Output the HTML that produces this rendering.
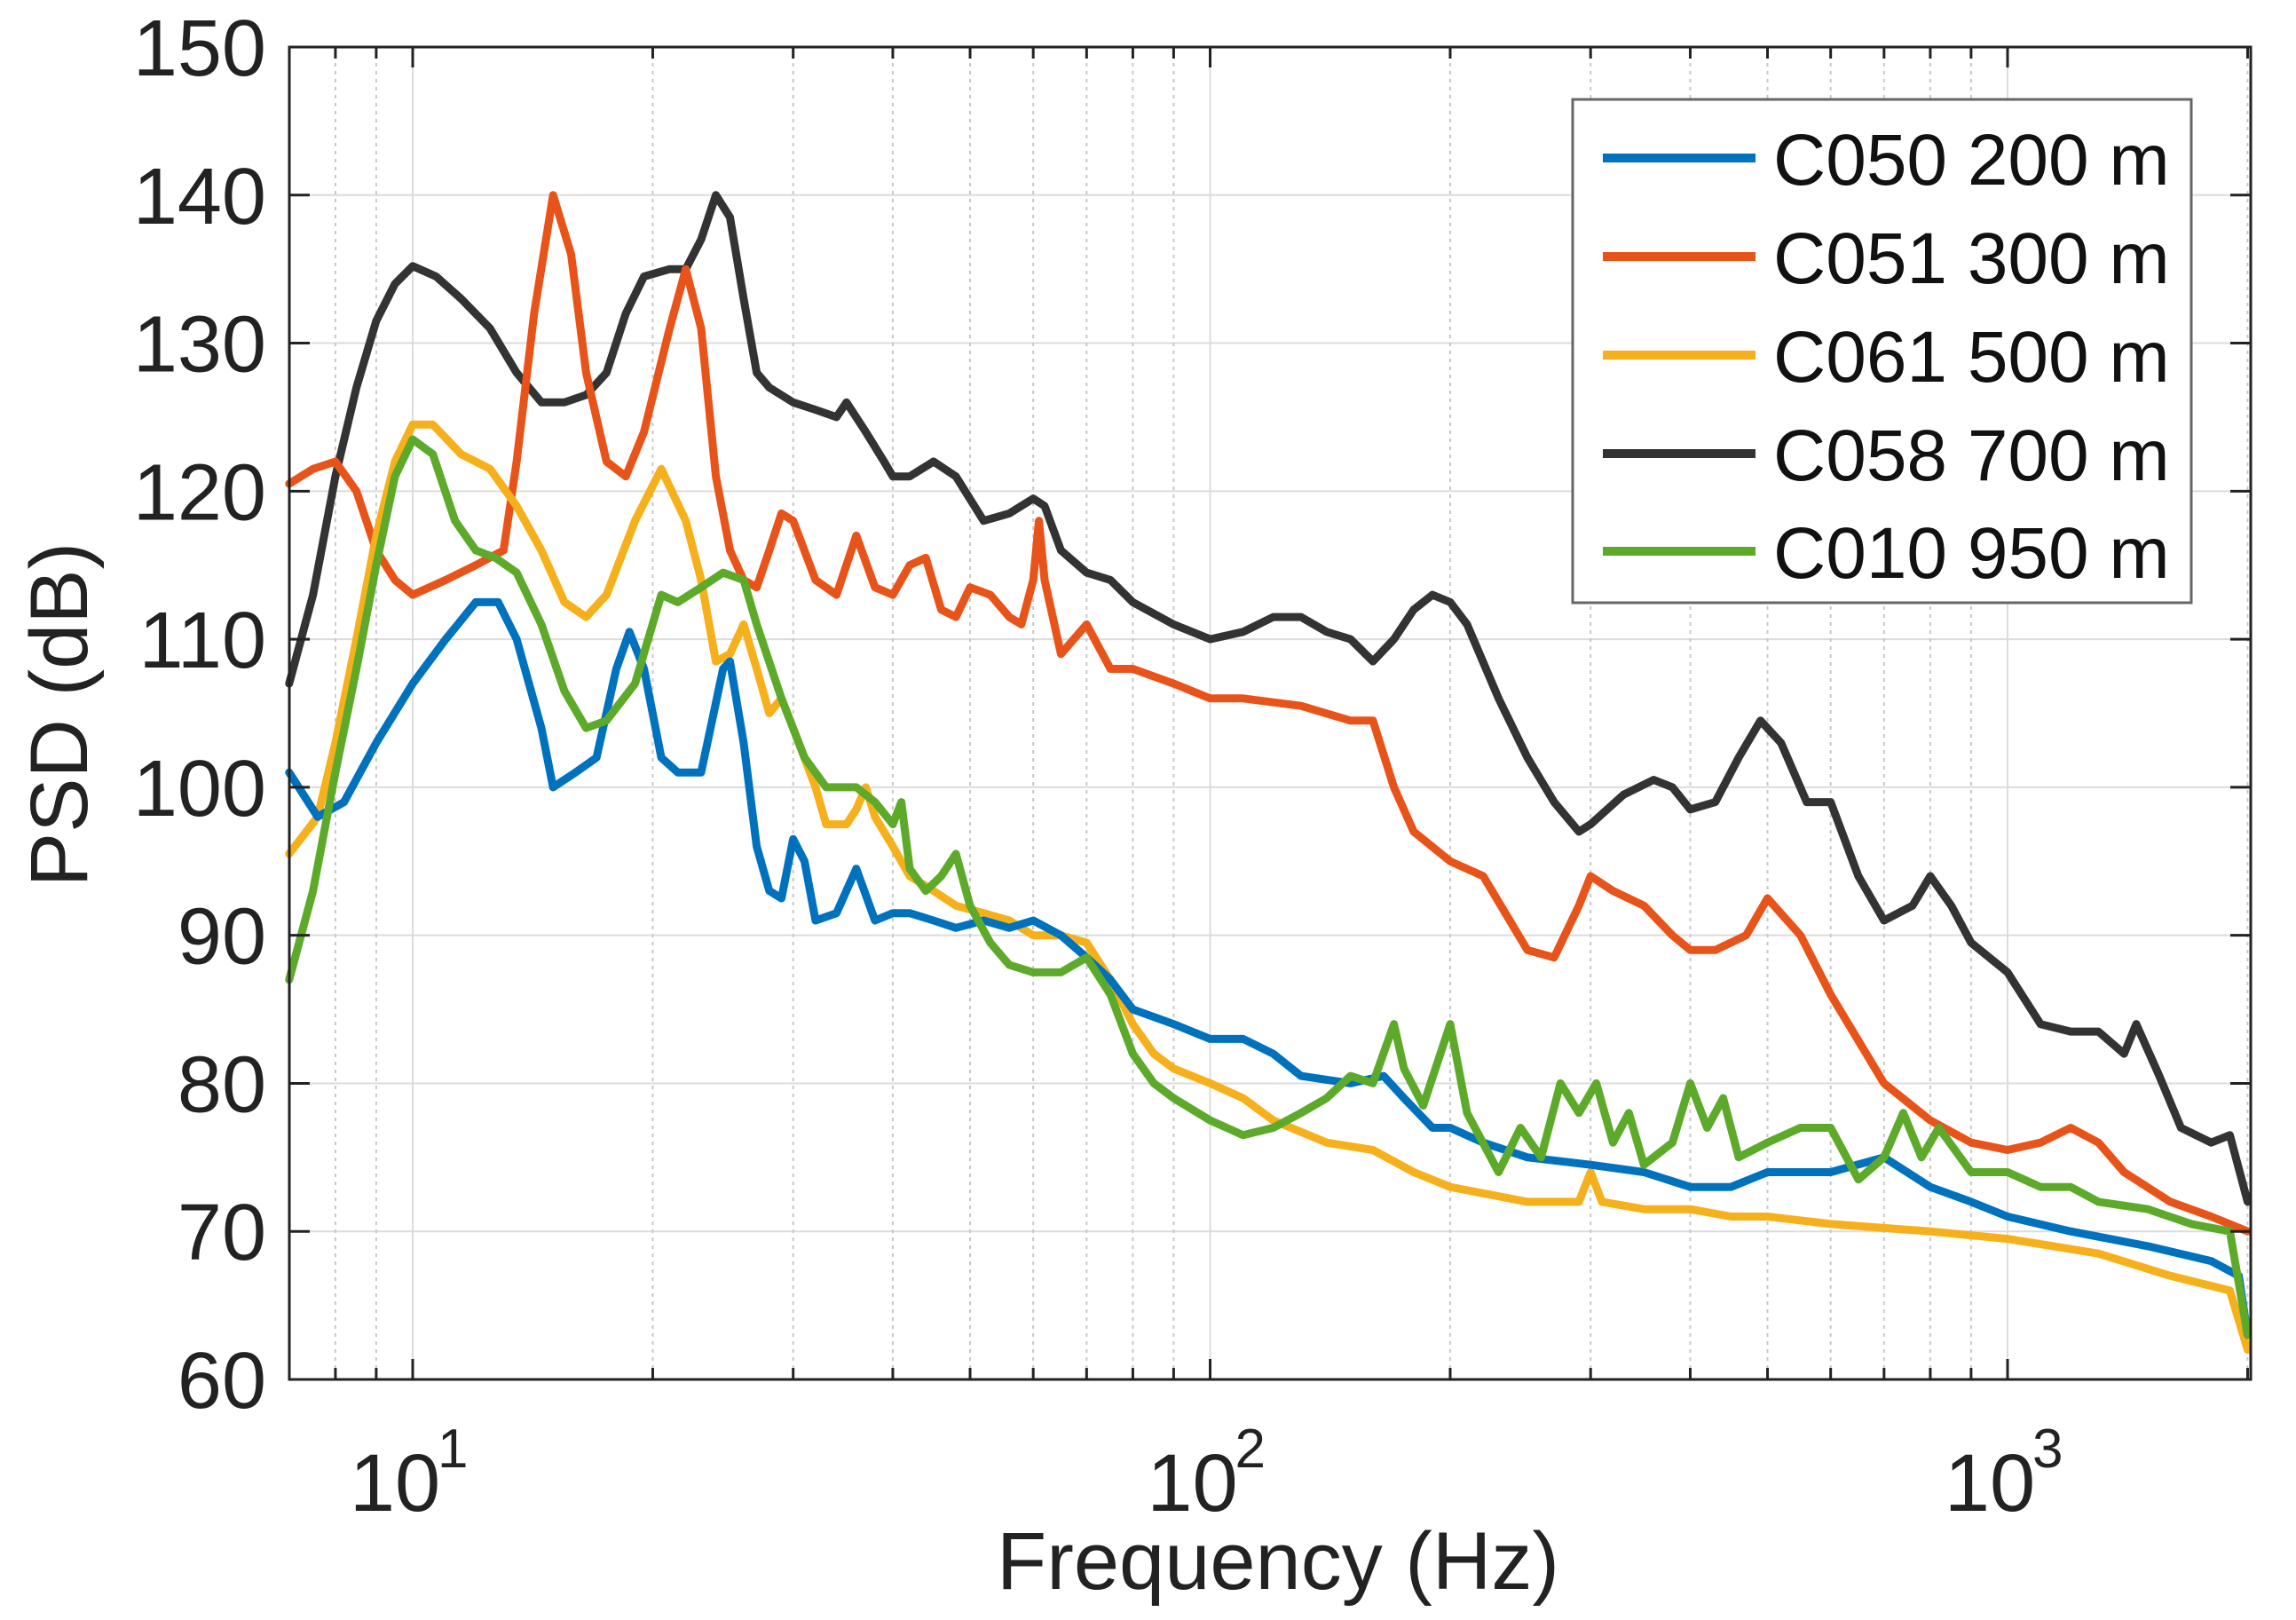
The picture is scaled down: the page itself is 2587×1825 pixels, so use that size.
<!DOCTYPE html>
<html><head><meta charset="utf-8"><style>
html,body{margin:0;padding:0;background:#fff;}
svg{display:block;font-family:"Liberation Sans",Arial,sans-serif;}
</style></head><body>
<svg id="chart" width="2587" height="1825" viewBox="0 0 2587 1825" xmlns="http://www.w3.org/2000/svg">
<g id="grid"></g>
<g id="series"></g>
<g id="axes"></g>
<g id="legend"></g>
</svg>
<script>
const yTicks = [60,70,80,90,100,110,120,130,140,150];
const xDecades = [1,2,3];
const seriesNames = ["C050 200 m","C051 300 m","C061 500 m","C058 700 m","C010 950 m"];
const seriesColors = ["#0072BD","#E8531A","#F5B01C","#333333","#5DAA2B"];
const fBlue = [7,7.6,8.2,9,10,11,12,12.8,13.5,14.5,15,16,17,18,18.7,19.5,20.5,21.5,23,24.5,25,26,27,28,29,30,31,32,34,36,38,40,42,45,48,52,56,60,65,70,75,80,90,100,110,120,130,150,165,175,190,200,220,250,300,350,400,450,500,600,700,800,900,1000,1200,1500,1800,1950,2000];
const dBlue = [101,98,99,103,107,110,112.5,112.5,110,104,100,101,102,108,110.5,108,102,101,101,108,108.5,103,96,93,92.5,96.5,95,91,91.5,94.5,91,91.5,91.5,91,90.5,91,90.5,91,90,88.5,87,85,84,83,83,82,80.5,80,80.5,79,77,77,76,75,74.5,74,73,73,74,74,75,73,72,71,70,69,68,67,63];
const fRed = [7,7.5,8,8.5,9,9.5,10,11,12,13,13.5,14.2,15,15.8,16.5,17.5,18.5,19.5,21,22,23,24,25,26,27,28,29,30,32,34,36,38,40,42,44,46,48,50,53,56,58,60,61,62,65,70,75,80,90,100,110,130,150,160,170,180,200,220,250,270,290,300,320,350,380,400,430,470,500,550,600,700,800,900,1000,1100,1200,1300,1400,1600,1800,2000];
const dRed = [120.5,121.5,122,120,116,114,113,114,115,116,122,132,140,136,128,122,121,124,131,135,131,121,116,114,113.5,116,118.5,118,114,113,117,113.5,113,115,115.5,112,111.5,113.5,113,111.5,111,114,118,114,109,111,108,108,107,106,106,105.5,104.5,104.5,100,97,95,94,89,88.5,92,94,93,92,90,89,89,90,92.5,90,86,80,77.5,76,75.5,76,77,76,74,72,71,70];
const fYel = [7,7.6,8,8.5,9,9.5,10,10.6,11.5,12.5,13.5,14.5,15.5,16.5,17.5,19,20.5,22,23,24,25,26,27,28,29,30,32,33,35,36,37,38,40,42,45,48,52,56,60,65,70,75,80,85,90,100,110,120,140,160,180,200,250,290,300,310,350,400,450,500,600,800,1000,1300,1600,1900,2000];
const dYel = [95.5,98,103,110,117,122,124.5,124.5,122.5,121.5,119,116,112.5,111.5,113,118,121.5,118,114,108.5,109,111,108,105,106,104,100,97.5,97.5,98.5,100,98,96,94,93,92,91.5,91,90,90,89.5,87,84,82,81,80,79,77.5,76,75.5,74,73,72,72,74,72,71.5,71.5,71,71,70.5,70,69.5,68.5,67,66,62];
const fDark = [7,7.5,8,8.5,9,9.5,10,10.7,11.5,12.5,13.5,14.5,15.5,16.5,17.5,18.5,19.5,21,22,23,24,25,26,27,28,30,32,34,35,37,39,40,42,45,48,52,56,60,62,65,70,75,80,90,100,110,120,130,140,150,160,170,180,190,200,210,230,250,270,290,300,330,360,380,400,430,460,490,520,560,600,650,700,760,800,850,900,1000,1100,1200,1300,1400,1450,1550,1650,1800,1900,2000];
const dDark = [107,113,121,127,131.5,134,135.2,134.5,133,131,128,126,126,126.5,128,132,134.5,135,135,137,140,138.5,133,128,127,126,125.5,125,126,124,122,121,121,122,121,118,118.5,119.5,119,116,114.5,114,112.5,111,110,110.5,111.5,111.5,110.5,110,108.5,110,112,113,112.5,111,106,102,99,97,97.5,99.5,100.5,100,98.5,99,102,104.5,103,99,99,94,91,92,94,92,89.5,87.5,84,83.5,83.5,82,84,80.5,77,76,76.5,72];
const fGrn = [7,7.5,8,8.5,9,9.5,10,10.6,11.3,12,12.7,13.5,14.5,15.5,16.5,17.5,19,20.5,21.5,23,24.5,26,27,29,31,33,36,38,40,41,42,44,46,48,50,53,56,60,65,70,75,80,85,90,100,110,120,130,140,150,160,170,175,185,200,210,230,245,260,275,290,305,320,335,350,380,400,420,440,460,500,550,600,650,700,740,780,820,900,1000,1100,1200,1300,1500,1700,1900,2000];
const dGrn = [87,93,101,108,115,121,123.5,122.5,118,116,115.5,114.5,111,106.5,104,104.5,107,113,112.5,113.5,114.5,114,111,106,102,100,100,99,97.5,99,94.5,93,94,95.5,92,89.5,88,87.5,87.5,88.5,86,82,80,79,77.5,76.5,77,78,79,80.5,80,84,81,78.5,84,78,74,77,75,80,78,80,76,78,74.5,76,80,77,79,75,76,77,77,73.5,75,78,75,77,74,74,73,73,72,71.5,70.5,70,63];

const L=326,R=2536,T=53,B=1554;
const X0=465, DEC=898.5;
function xs(f){return X0+(Math.log10(f)-1)*DEC;}
function ys(v){return B-(v-60)*(B-T)/90;}
const NS="http://www.w3.org/2000/svg";
function mk(tag,attrs,parent){const e=document.createElementNS(NS,tag);for(const k in attrs)e.setAttribute(k,attrs[k]);parent.appendChild(e);return e;}
const grid=document.getElementById('grid'),axes=document.getElementById('axes'),ser=document.getElementById('series'),leg=document.getElementById('legend');

for(const v of yTicks){
  const y=ys(v);
  const g=mk('line',{x1:L,x2:R,y1:y,y2:y,stroke:'#dcdcdc','stroke-width':2},grid);
  
  
  for(const xx of [[L,L+23],[R-23,R]]){
    const t=mk('line',{x1:xx[0],x2:xx[1],y1:y,y2:y,stroke:'#222','stroke-width':3},axes);
    
    
  }
  const lb=mk('text',{x:300,y:y+32,'text-anchor':'end','font-size':90,fill:'#222'},axes);
  lb.textContent=v;
  
  
}
for(let d=0;d<=3;d++){
  for(let m=1;m<=9;m++){
    const f=m*Math.pow(10,d);
    const x=xs(f);
    if(x<L||x>R)continue;
    const major=(m===1);
    const g=mk('line',{x1:x,x2:x,y1:T,y2:B,stroke:major?'#dcdcdc':'#c8c8c8','stroke-width':2,'stroke-dasharray':major?'none':'4,5'},grid);
    
    
    const len=major?23:13;
    for(const yy of [[B,B-len],[T,T+len]]){
      const t=mk('line',{x1:x,x2:x,y1:yy[0],y2:yy[1],stroke:'#222','stroke-width':3},axes);
      
      
    }
  }
}
for(const d of xDecades){
  const x=xs(Math.pow(10,d));
  const t=mk('text',{x:x-20,y:1702,'text-anchor':'middle','font-size':92,fill:'#222'},axes);
  
  
  t.textContent='10';
  const s=mk('text',{x:x+28,y:1653,'text-anchor':'start','font-size':62,fill:'#222'},axes);
  
  
  s.textContent=d;
}
const box=mk('rect',{x:L,y:T,width:R-L,height:B-T,fill:'none',stroke:'#222','stroke-width':3},axes);


const xl=mk('text',{x:1440,y:1790,'text-anchor':'middle','font-size':92,fill:'#222'},axes);
xl.textContent='Frequency (Hz)';


const yl=mk('text',{x:0,y:0,'text-anchor':'middle','font-size':92,fill:'#222',transform:'translate(98,805) rotate(-90)'},axes);
yl.textContent='PSD (dB)';



const fs=[fBlue,fRed,fYel,fDark,fGrn], ds=[dBlue,dRed,dYel,dDark,dGrn];
const order=[3,1,2,0,4];
const keys=['c050-line','c051-line','c061-line','c058-line','c010-line'];
for(const i of order){
  const pts=fs[i].map((f,j)=>xs(f).toFixed(1)+','+ys(ds[i][j]).toFixed(1)).join(' ');
  const p=mk('polyline',{points:pts,fill:'none',stroke:seriesColors[i],'stroke-width':9,'stroke-linejoin':'round','stroke-linecap':'round'},ser);
  
  
}

const lr=mk('rect',{x:1772,y:112,width:697,height:567,fill:'#fff',stroke:'#666','stroke-width':3},leg);


const ly=[178,289,400,511,621];
for(let i=0;i<5;i++){
  const l=mk('line',{x1:1806,x2:1978,y1:ly[i],y2:ly[i],stroke:seriesColors[i],'stroke-width':10},leg);
  
  
  const t=mk('text',{x:1998,y:ly[i]+30,'font-size':82,fill:'#111'},leg);
  t.textContent=seriesNames[i];
  
  
}
</script>
</body></html>
